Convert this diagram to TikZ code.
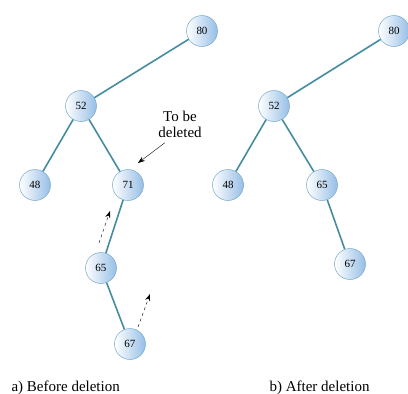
\documentclass[tikz,border=0pt]{standalone}
\usepackage{fontspec}
\setmainfont{Liberation Serif}
\usetikzlibrary{arrows.meta}
\definecolor{ballblue}{RGB}{150,190,230}
\definecolor{linkteal}{RGB}{70,140,160}
\begin{document}
\begin{tikzpicture}[x=1pt,y=-1pt,
    key/.style={circle,minimum size=31pt,inner sep=0pt,left color=white,right color=ballblue,draw=ballblue!60!linkteal,line width=0.5pt,font=\fontsize{11}{11}\selectfont},
    link/.style={draw=linkteal,line width=1.6pt},
    move/.style={-{Stealth[length=7pt,width=5pt]},dashed,thin},
    caption/.style={anchor=base west,font=\fontsize{15}{16}\selectfont}]
    \useasboundingbox (0,0) rectangle (408,394);
    % a) before deletion
    \node[key] (a80) at (202,31) {80};\node[key] (a52) at (81,106) {52};
    \node[key] (a48) at (35,185) {48};\node[key] (a71) at (128,185) {71};
    \node[key] (a65) at (101,268) {65};\node[key] (a67) at (130,344) {67};
    \draw[link] (a80) -- (a52);\draw[link] (a52) -- (a48);\draw[link] (a52) -- (a71);
    \draw[link] (a71) -- (a65);\draw[link] (a65) -- (a67);
    \node[align=center,font=\fontsize{15}{16}\selectfont] (note) at (180,124) {To be\\deleted};
    \coordinate (tip) at (138,163);
    \draw[-{Stealth[length=7pt,width=5pt]},thin] (note.south west) ++(10,2) coordinate (tail) -- (tip);
    \coordinate (up1) at (99,243);\coordinate (up1t) at (110,211);
    \coordinate (up2) at (138,327);\coordinate (up2t) at (150,294);
    \draw[move] (up1) -- (up1t);\draw[move] (up2) -- (up2t);
    \node[caption] (capa) at (8,391) {a) Before deletion};
    % b) after deletion
    \node[key] (b80) at (394,31) {80};\node[key] (b52) at (274,106) {52};
    \node[key] (b48) at (228,185) {48};\node[key] (b65) at (322,185) {65};
    \node[key] (b67) at (350,264) {67};
    \draw[link] (b80) -- (b52);\draw[link] (b52) -- (b48);\draw[link] (b52) -- (b65);
    \draw[link] (b65) -- (b67);
    \node[caption] (capb) at (266,391) {b) After deletion};
\end{tikzpicture}
\end{document}
